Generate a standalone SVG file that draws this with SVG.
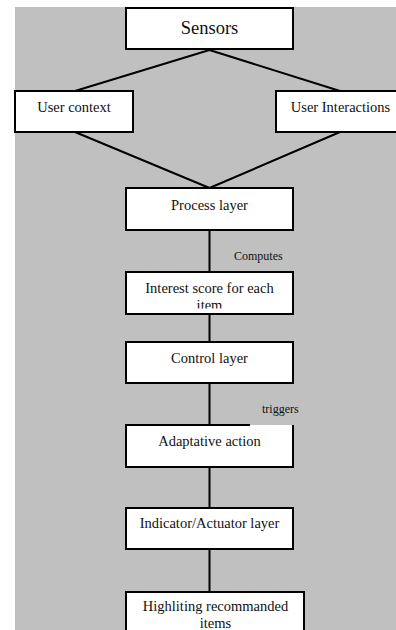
<svg xmlns="http://www.w3.org/2000/svg" width="396" height="630" viewBox="0 0 396 630">
<style>
.box{fill:#fff;stroke:#000;stroke-width:2}
.edge{fill:none;stroke:#000;stroke-width:2}
.t{font-size:14.5px}
.lbl{font-size:12px}
</style>
<defs>
<clipPath id="c1"><rect x="127" y="273" width="165" height="35.5"/></clipPath>
</defs>
<rect x="15" y="7" width="381" height="623" fill="#c0c0c0"/>
<g id="connectors">
<path class="edge" d="M209.5,50 L75,91 M209.5,50 L340,91 M75,132 L209.5,188 M340,132 L209.5,188"/>
<path class="edge" d="M209.5,230 V272 M209.5,314 V342 M209.5,383 V425 M209.5,467 V508 M209.5,549 V592"/>
</g>
<g font-family="'Liberation Serif', 'DejaVu Serif', serif" fill="#111" text-anchor="middle">
<g id="sensors"><rect class="box" x="126" y="8" width="167" height="41"/><text x="209.5" y="34" font-size="18.5">Sensors</text></g>
<g id="user-context"><rect class="box" x="15" y="91" width="118" height="41"/><text class="t" x="74" y="112">User context</text></g>
<g id="user-interactions"><rect class="box" x="276" y="91" width="130" height="41"/><text class="t" x="340.5" y="112">User Interactions</text></g>
<g id="process-layer"><rect class="box" x="126" y="188" width="167" height="42"/><text class="t" x="209.5" y="209.5">Process layer</text></g>
<g id="interest-score"><rect class="box" x="126" y="272" width="167" height="42"/><g clip-path="url(#c1)"><text class="t" x="209.5" y="293">Interest score for each</text><text class="t" x="209.5" y="309.5">item</text></g></g>
<g id="computes-label"><text class="lbl" x="234" y="260" text-anchor="start">Computes</text></g>
<g id="control-layer"><rect class="box" x="126" y="342" width="167" height="41"/><text class="t" x="209.5" y="363">Control layer</text></g>
<g id="triggers-label"><text class="lbl" x="262" y="413" text-anchor="start">triggers</text></g>
<g id="adaptative-action"><rect x="126" y="425" width="167" height="42" fill="#fff"/><path class="edge" d="M250,425 H126 V467 H293 V425"/><text class="t" x="209.5" y="445.5">Adaptative action</text></g>
<g id="indicator-layer"><rect class="box" x="126" y="508" width="167" height="41"/><text class="t" x="209.5" y="528">Indicator/Actuator layer</text></g>
<g id="highliting"><rect class="box" x="126" y="592" width="178" height="50"/><text class="t" x="215.5" y="611">Highliting recommanded</text><text class="t" x="215.5" y="627.5">items</text></g>
</g>
</svg>
